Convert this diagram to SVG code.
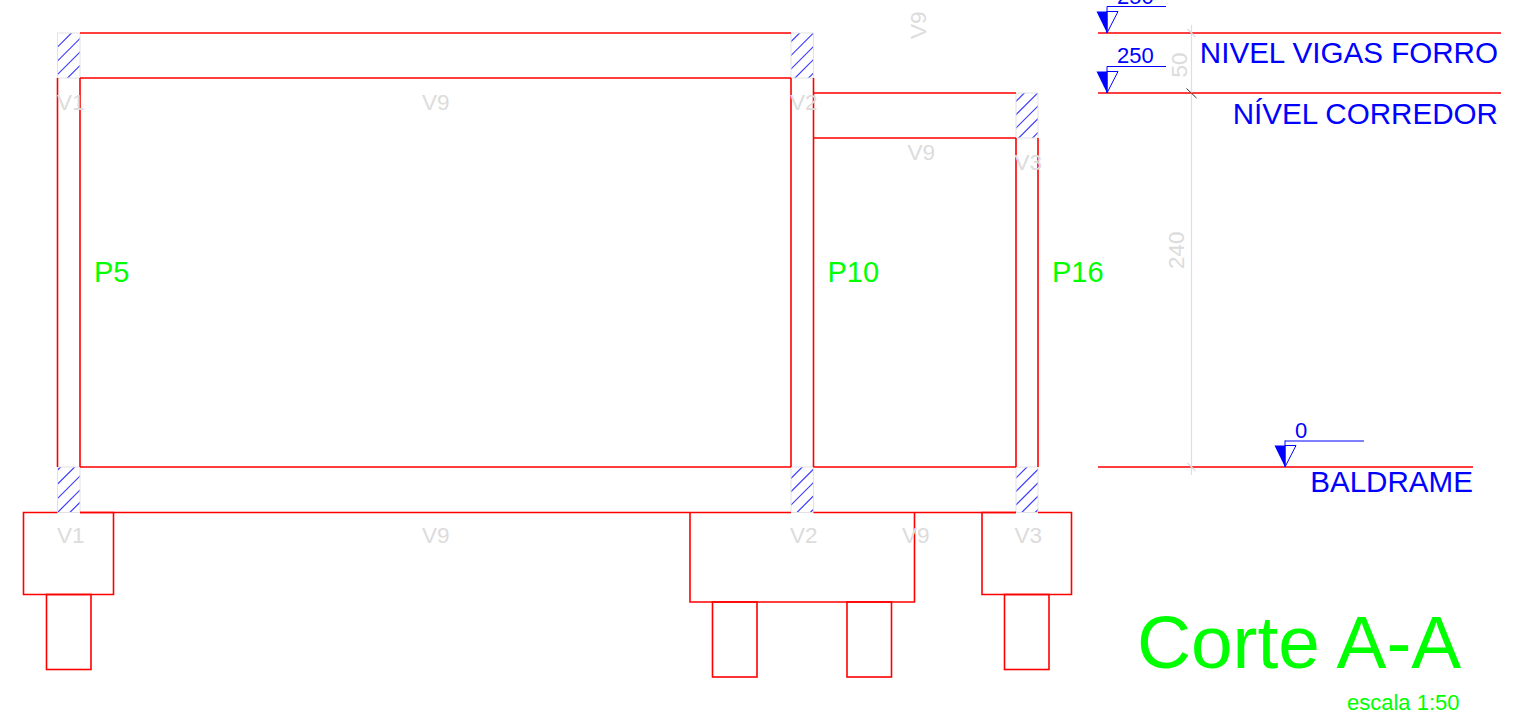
<svg xmlns="http://www.w3.org/2000/svg" width="1527" height="720" viewBox="0 0 1527 720">
<style>
text{font-family:"Liberation Sans",Arial,sans-serif}
.r{fill:none;stroke:#f00;stroke-width:1.6}
.cell{fill:none;stroke:#e2e2e2;stroke-width:1}
.h{stroke:#3c3cff;stroke-width:1.2}
.dim{stroke:#dedede;stroke-width:1.2;fill:none}
.g{fill:#dcdcdc;font-size:22.500px}
.b{fill:#00f;font-size:29.600px}
.bs{fill:#00f;font-size:22px}
.gr{fill:#0f0}
.mk{fill:none;stroke:#00f;stroke-width:1}
.mf{fill:#00f}
</style>
<defs>
<clipPath id="c1"><rect x="57.5" y="33" width="22.5" height="45"/></clipPath>
<clipPath id="c2"><rect x="791" y="33" width="22.5" height="45"/></clipPath>
<clipPath id="c3"><rect x="1016" y="93" width="22" height="45"/></clipPath>
<clipPath id="c4"><rect x="57.5" y="467" width="22.5" height="45.5"/></clipPath>
<clipPath id="c5"><rect x="791" y="467" width="22.5" height="45.5"/></clipPath>
<clipPath id="c6"><rect x="1016" y="467" width="22" height="45.5"/></clipPath>
<g id="mark"><path class="mf" d="M-10.500-21.500H0V0Z"/><path class="mk" d="M0 0V-26.500M0-21.500H11L0 0Z"/></g>
</defs>

<g id="hatching">
<g clip-path="url(#c1)"><path class="h" d="M40 64.500L80 24.500M40 78.500L95 23.500M40 92L100 32M40 105.500L100 45.500"/></g>
<g clip-path="url(#c2)"><path class="h" d="M770 62.700L830 2.700M770 76.500L830 16.500M770 90L830 30M770 103L830 43M770 116.500L830 56.500"/></g>
<g clip-path="url(#c3)"><path class="h" d="M1000 117.300L1060 57.300M1000 130.700L1060 70.700M1000 144L1060 84M1000 156.700L1060 96.700M1000 170.500L1060 110.500"/></g>
<g clip-path="url(#c4)"><path class="h" d="M40 487.700L100 427.700M40 501.700L100 441.700M40 516L100 456M40 530L100 470M40 542.300L100 482.300"/></g>
<g clip-path="url(#c5)"><path class="h" d="M770 499.300L830 439.300M770 512.700L830 452.700M770 526L830 466M770 539.400L830 479.400M770 552.800L830 492.800"/></g>
<g clip-path="url(#c6)"><path class="h" d="M1000 494L1060 434M1000 507.400L1060 447.400M1000 520.800L1060 460.800M1000 534.200L1060 474.200M1000 547.600L1060 487.600"/></g>
<rect class="cell" x="57.500" y="33" width="22.500" height="45"/>
<rect class="cell" x="791" y="33" width="22.500" height="45"/>
<rect class="cell" x="1016" y="93" width="22" height="45"/>
<rect class="cell" x="57.500" y="467" width="22.500" height="45.500"/>
<rect class="cell" x="791" y="467" width="22.500" height="45.500"/>
<rect class="cell" x="1016" y="467" width="22" height="45.500"/>
</g>

<g id="frame">
<path class="r" d="M80 33H791M80 78H791M80 467H791M80 512.500H791"/>
<path class="r" d="M57.500 78V467M80 78V467M791 78V467M813.500 78V467"/>
<path class="r" d="M813.500 93H1016M813.500 138H1016M813.500 467H1016M813.500 512.500H1016"/>
<path class="r" d="M1016 138V467M1038 138V467"/>
</g>

<g id="footing-1">
<path class="r" d="M57.500 512.500H23.500V594.500H113.500V512.500H80"/>
<rect class="r" x="46.500" y="594.500" width="44.500" height="75"/>
</g>
<g id="footing-2">
<path class="r" d="M690 512.500V602H914.500V512.500"/>
<rect class="r" x="712.500" y="602" width="44.500" height="75"/>
<rect class="r" x="847" y="602" width="44.500" height="75"/>
</g>
<g id="footing-3">
<path class="r" d="M1016 512.500H982V594.500H1071.500V512.500H1038"/>
<rect class="r" x="1004.500" y="594.500" width="44.500" height="75"/>
</g>

<g id="beam-labels">
<text class="g" x="57" y="109.500">V1</text>
<text class="g" x="422" y="109.500">V9</text>
<text class="g" x="790" y="109.500">V2</text>
<text class="g" x="907.500" y="160">V9</text>
<text class="g" x="1014.500" y="170">V3</text>
<text class="g" x="57" y="543">V1</text>
<text class="g" x="422" y="543">V9</text>
<text class="g" x="790" y="543">V2</text>
<text class="g" x="902" y="543">V9</text>
<text class="g" x="1014.500" y="543">V3</text>
<text class="g" transform="translate(926 39) rotate(-90)">V9</text>
</g>

<g id="pillar-labels">
<text class="gr" font-size="29" x="94" y="282">P5</text>
<text class="gr" font-size="29" x="827.500" y="282">P10</text>
<text class="gr" font-size="29" x="1052" y="282">P16</text>
</g>

<g id="levels">
<path class="r" d="M1098 33H1501M1098 93H1501M1098 467H1473"/>
<use href="#mark" x="1107" y="33"/>
<use href="#mark" x="1107" y="93"/>
<use href="#mark" x="1285" y="467"/>
<path class="mk" d="M1107 6.500H1166M1107 66.500H1166M1285 441H1364"/>
<text class="bs" x="1117" y="4">250</text>
<text class="bs" x="1117" y="63">250</text>
<text class="bs" x="1295" y="438">0</text>
<text class="b" x="1498" y="62.500" text-anchor="end">NIVEL VIGAS FORRO</text>
<text class="b" x="1498" y="123.500" text-anchor="end">NÍVEL CORREDOR</text>
<text class="b" x="1473" y="492" text-anchor="end">BALDRAME</text>
</g>

<g id="dimension">
<path class="dim" d="M1191.500 25V475M1187.500 29L1195.500 37M1187.500 463L1195.500 471"/>
<path stroke="#333" stroke-width="1" d="M1186.500 88.500L1196.500 98"/>
<text class="g" transform="translate(1186.500 77.500) rotate(-90)">50</text>
<text class="g" transform="translate(1183.500 269) rotate(-90)">240</text>
</g>

<g id="title">
<text class="gr" font-size="74.800" x="1137" y="668">Corte A-A</text>
<text class="gr" font-size="22" x="1347" y="710">escala 1:50</text>
</g>
</svg>
